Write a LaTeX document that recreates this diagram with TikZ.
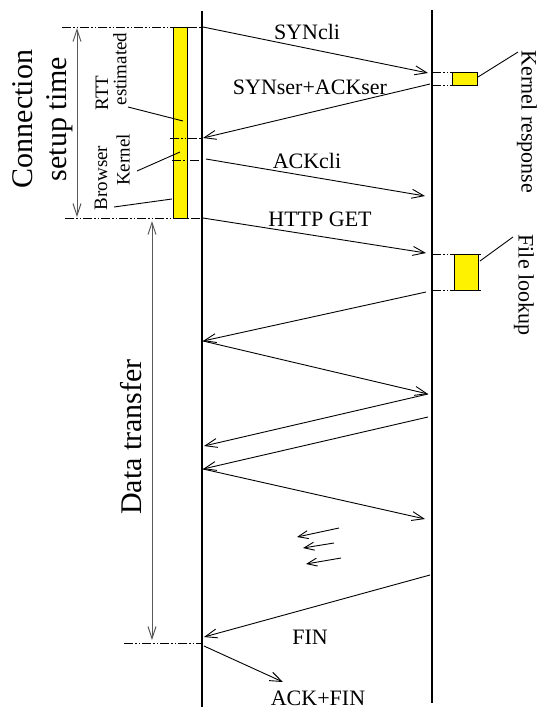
\documentclass[tikz,border=0pt]{standalone}
\usepackage{fontspec}
\setmainfont{Liberation Serif}
\usetikzlibrary{arrows.meta}
\begin{document}
\begin{tikzpicture}[x=1pt,y=-1pt,
  msg/.style={line width=0.9pt, -{Straight Barb[length=12pt,width=9pt,line width=0.9pt]}},
  smsg/.style={line width=0.9pt, -{Straight Barb[length=10pt,width=8pt,line width=0.9pt]}},
  life/.style={line width=2pt},
  ddot/.style={line width=0.9pt, dash pattern=on 9pt off 2pt on 1.5pt off 2pt on 1.5pt off 2pt},
  dimline/.style={line width=1pt, draw=black!65, {Straight Barb[length=12pt,width=8pt,line width=1pt]}-{Straight Barb[length=12pt,width=8pt,line width=1pt]}},
  lbl/.style={font=\fontsize{22}{24}\selectfont, inner sep=0pt},
  big/.style={font=\fontsize{30}{34}\selectfont, inner sep=0pt, align=center},
  small/.style={font=\fontsize{19}{21}\selectfont, inner sep=0pt},
  ybox/.style={draw=black, line width=0.8pt, fill=yellow},
  lead/.style={line width=0.9pt}]
\useasboundingbox (0,0) rectangle (538,713);

% lifelines
\coordinate (ct) at (202,11);
\coordinate (cb) at (202,707);
\coordinate (st) at (432,10);
\coordinate (sb) at (432,703);
\draw[life] (ct) -- (cb);
\draw[life] (st) -- (sb);

% client bar
\draw[ybox] (173,27) rectangle (187,218);

% dash-dot guide lines
\draw[ddot] (62,27) -- (202,27);
\draw[ddot] (170,138) -- (202,138);
\draw[ddot] (172,160) -- (202,160);
\draw[ddot] (65,218) -- (202,218);
\draw[ddot] (124,643) -- (202,643);
\draw[ddot] (432,72) -- (452,72);
\draw[ddot] (432,85) -- (452,85);
\draw[ddot] (432,254) -- (482,254);
\draw[ddot] (432,290) -- (482,290);

% server boxes
\draw[ybox] (452,72) rectangle (477,85);
\draw[ybox] (454,254) rectangle (478,290);

% dimension arrows
\coordinate (cs1) at (77,28);
\coordinate (cs2) at (77,217);
\draw[dimline] (cs1) -- (cs2);
\coordinate (dt1) at (152,221);
\coordinate (dt2) at (152,640);
\draw[dimline] (dt1) -- (dt2);

% messages
\coordinate (m1a) at (203,27);  \coordinate (m1b) at (428,73);
\coordinate (m2a) at (430,84);  \coordinate (m2b) at (203,138);
\coordinate (m3a) at (206,159); \coordinate (m3b) at (425,196);
\coordinate (m4a) at (203,218); \coordinate (m4b) at (426,253);
\coordinate (m5a) at (426,292); \coordinate (m5b) at (203,341);
\coordinate (m6b) at (428,394);
\coordinate (m7b) at (204,446);
\coordinate (m8a) at (428,417); \coordinate (m8b) at (203,469);
\coordinate (m9b) at (425,519);
\coordinate (mfa) at (430,575); \coordinate (mfb) at (204,637);
\coordinate (maa) at (204,646); \coordinate (mab) at (283,682);
\draw[msg] (m1a) -- (m1b);
\draw[msg] (m2a) -- (m2b);
\draw[msg] (m3a) -- (m3b);
\draw[msg] (m4a) -- (m4b);
\draw[msg] (m5a) -- (m5b);
\draw[msg] (m5b) -- (m6b);
\draw[msg] (m6b) -- (m7b);
\draw[msg] (m8a) -- (m8b);
\draw[msg] (m8b) -- (m9b);
\draw[msg] (mfa) -- (mfb);
\draw[msg] (maa) -- (mab);

% small arrows
\coordinate (s1a) at (339,528); \coordinate (s1b) at (297,537);
\coordinate (s2a) at (334,543); \coordinate (s2b) at (303,548);
\coordinate (s3a) at (341,558); \coordinate (s3b) at (306,564);
\draw[smsg] (s1a) -- (s1b);
\draw[smsg] (s2a) -- (s2b);
\draw[smsg] (s3a) -- (s3b);

% message labels
\node[lbl] (lsyn) at (307,32) {SYNcli};
\node[lbl] (lsynack) at (310,87) {SYNser+ACKser};
\node[lbl] (lack) at (307,161) {ACKcli};
\node[lbl] (lget) at (320,219) {HTTP GET};
\node[lbl] (lfin) at (310,637) {FIN};
\node[lbl] (lackfin) at (318,698) {ACK+FIN};

% rotated labels
\node[big, rotate=90] (lconn) at (43,119) {Connection\\setup time};
\node[big, rotate=90] (ldata) at (131,437) {Data transfer};
\node[small, rotate=90] (lrtt) at (102,93) {RTT};
\node[small, rotate=90] (lest) at (120,69) {estimated};
\node[small, rotate=90] (lbrow) at (101,178) {Browser};
\node[small, rotate=90] (lkern) at (123,160) {Kernel};
\node[lbl, rotate=-90] (lkresp) at (527,122) {Kernel response};
\node[lbl, rotate=-90] (lfile) at (524,285) {File lookup};

% leader lines
\draw[lead] (128,107) -- (183,121);
\draw[lead] (137,171) -- (180,152);
\draw[lead] (114,207) -- (172,199);
\draw[lead] (478,77) -- (518,52);
\draw[lead] (480,261) -- (513,237);
\end{tikzpicture}
\end{document}
